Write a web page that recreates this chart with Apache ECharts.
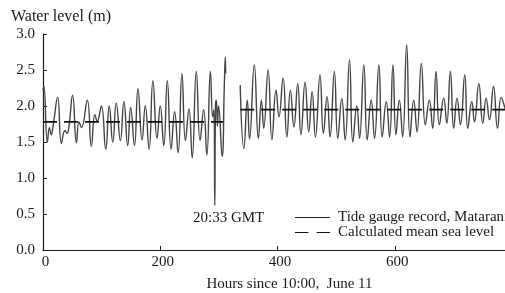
<!DOCTYPE html>
<html>
<head>
<meta charset="utf-8">
<script src="https://cdn.jsdelivr.net/npm/echarts@6/dist/echarts.min.js"></script>
<style>
  html, body { margin: 0; padding: 0; background: #fff; }
  #chart { width: 505px; height: 293px; }
</style>
</head>
<body>
<div id="chart"></div>
<script>
// tide record (hours since 10:00 June 11, metres)
var seg1Hours = [0, 1.5, 7.5, 11, 14, 17.5, 25, 31.5, 37.5, 41, 44, 50.5, 57, 61.5, 65.5, 75.5, 82.5, 88.5, 92.5, 99.5,
  107, 113, 119, 125, 132, 138, 144.5, 149.5, 156, 162, 169, 174.5, 181, 187.5, 194.5, 200, 206, 212, 218.5, 224.5,
  230.5, 237, 243, 249, 254.5, 261.5, 268, 274, 279.5, 285.5, 289.5, 291.5, 293, 294.2, 295.8, 297.5, 299.5, 305.5,
  309.5, 311, 311.6];
var seg1Levels = [2.22, 2.28, 1.50, 1.70, 1.60, 1.74, 2.12, 1.48, 1.66, 1.62, 1.70, 2.15, 1.49, 1.78, 1.70, 2.08, 1.44, 1.88, 1.79, 2.0,
  1.40, 2.0, 1.50, 2.04, 1.52, 2.06, 1.45, 1.98, 1.45, 2.24, 1.53, 2.0, 1.40, 2.35, 1.55, 2.0, 1.45, 2.35, 1.40, 1.92,
  1.35, 2.45, 1.52, 1.96, 1.28, 2.48, 1.52, 1.95, 1.32, 2.48, 1.85, 1.95, 0.62, 2.0, 2.08, 1.72, 2.0, 1.30,
  2.35, 2.68, 2.45];

var seg2Hours = [336.4, 342.7, 348.4, 352.3, 360.4, 367.4, 372.5, 376.5, 384, 390.5, 397.5, 402.5, 409.5, 416, 422, 428,
  434.5, 440, 447, 453.3, 459, 464.7, 472.5, 478.3, 484.5, 489.7, 497, 502.8, 509.7, 515.4, 522.8, 528.5, 535.3, 539.9,
  547.3, 553, 559.8, 565.5, 572.9, 578.6, 585.5, 591.2, 596.9, 602.1, 607.8, 613.5, 620.3, 626, 632.3, 638, 645.4,
  652.2, 659, 664.7, 670.4, 676.1, 683.5, 688.7, 694.9, 700.6, 706.3, 712, 719.4, 724.6, 731.4, 736, 743.4, 750.2,
  755.9, 761.6, 768.4, 775.3, 781.5, 787, 792];
var seg2Levels = [2.29, 1.41, 2.08, 1.54, 2.57, 1.55, 2.08, 1.69, 2.50, 1.53, 2.22, 1.85, 2.39, 1.57, 2.22, 1.71,
  2.31, 1.60, 2.33, 1.64, 2.20, 1.57, 2.43, 1.62, 2.13, 1.57, 2.48, 1.55, 2.10, 1.53, 2.64, 1.50, 2.0, 1.55,
  2.57, 1.53, 2.08, 1.55, 2.57, 1.57, 2.06, 1.57, 2.57, 1.60, 2.08, 1.57, 2.85, 1.57, 2.08, 1.64, 2.59,
  1.74, 2.08, 1.69, 2.48, 1.74, 2.11, 1.76, 2.48, 1.69, 2.11, 1.74, 2.43, 1.69, 2.06, 1.78, 2.31, 1.76,
  2.11, 1.81, 2.27, 1.69, 2.12, 2.0, 1.85];

// calculated mean sea level, before and after the gap
var meanSpans = [[0, 307], [336.4, 792]];
var meanLevels = [1.78, 1.95];

var xTicks = [0, 200, 400, 600];
var yTicks = [0, 0.5, 1.0, 1.5, 2.0, 2.5, 3.0];

var serif = "Liberation Serif";
var ink = "#1a1a1a";

var tideData = [];
seg1Hours.forEach(function (h, i) { tideData.push([h, seg1Levels[i]]); });
tideData.push([322, "-"]);
seg2Hours.forEach(function (h, i) { tideData.push([h, seg2Levels[i]]); });

var meanData = [];
meanSpans.forEach(function (s, i) {
  if (i > 0) meanData.push([s[0] - 10, "-"]);
  meanData.push([s[0], meanLevels[i]]);
  meanData.push([s[1], meanLevels[i]]);
});

var chart = echarts.init(document.getElementById("chart"));
chart.setOption({
  backgroundColor: "#fff",
  animation: false,
  title: {
    text: "Water level (m)",
    left: 6,
    top: 4,
    textStyle: { fontFamily: serif, fontSize: 16, fontWeight: "normal", color: ink },
  },
  legend: {
    orient: "vertical",
    left: 295,
    top: 210,
    padding: 0,
    itemWidth: 35,
    itemHeight: 1.5,
    itemGap: 0,
    textStyle: { fontFamily: serif, fontSize: 15, color: ink, lineHeight: 15, padding: [0, 0, 0, 3] },
    data: [
      { name: "Tide gauge record, Matarani", icon: "path://M0,0H35V1H0Z" },
      { name: "Calculated mean sea level", icon: "path://M0,0H13V1H0ZM21,0H34V1H21Z" },
    ],
  },
  grid: { left: 43, top: 34, width: 469, height: 216, containLabel: false, outerBoundsMode: "none" },
  xAxis: {
    type: "value",
    min: 0,
    max: 800,
    interval: 200,
    name: "Hours since 10:00,  June 11",
    nameLocation: "middle",
    nameGap: 27,
    nameTextStyle: { fontFamily: serif, fontSize: 15, color: ink, padding: [0, 0, 0, 24] },
    axisLine: { lineStyle: { color: ink, width: 1.2 } },
    axisTick: { inside: true, length: 4, lineStyle: { color: ink } },
    axisLabel: {
      fontFamily: serif, fontSize: 15, color: ink, margin: 5, padding: [0, 0, 0, 5],
      formatter: function (v) { return xTicks.indexOf(v) >= 0 ? String(v) : ""; },
    },
    splitLine: { show: false },
  },
  yAxis: {
    type: "value",
    min: 0,
    max: 3,
    interval: 0.5,
    axisLine: { show: true, lineStyle: { color: ink, width: 1.2 } },
    axisTick: { show: true, inside: true, length: 4, lineStyle: { color: ink } },
    axisLabel: {
      fontFamily: serif, fontSize: 15, color: ink, margin: 8, padding: [3, 0, 0, 0],
      formatter: function (v) { return yTicks.indexOf(v) >= 0 ? v.toFixed(1) : ""; },
    },
    splitLine: { show: false },
  },
  graphic: [
    {
      type: "text",
      left: 193,
      top: 211,
      style: { text: "20:33 GMT", font: "15px 'Liberation Serif'", fill: ink },
    },
  ],
  series: [
    {
      name: "Tide gauge record, Matarani",
      type: "line",
      data: tideData,
      symbol: "none",
      smooth: 0.5,
      connectNulls: false,
      lineStyle: { color: "#444", width: 1.4 },
      itemStyle: { color: "#222" },
      z: 2,
    },
    {
      name: "Calculated mean sea level",
      type: "line",
      data: meanData,
      symbol: "none",
      connectNulls: false,
      lineStyle: { color: "#111", width: 1.6, type: [14, 7] },
      itemStyle: { color: "#111" },
      z: 3,
    },
  ],
});
</script>
</body>
</html>
